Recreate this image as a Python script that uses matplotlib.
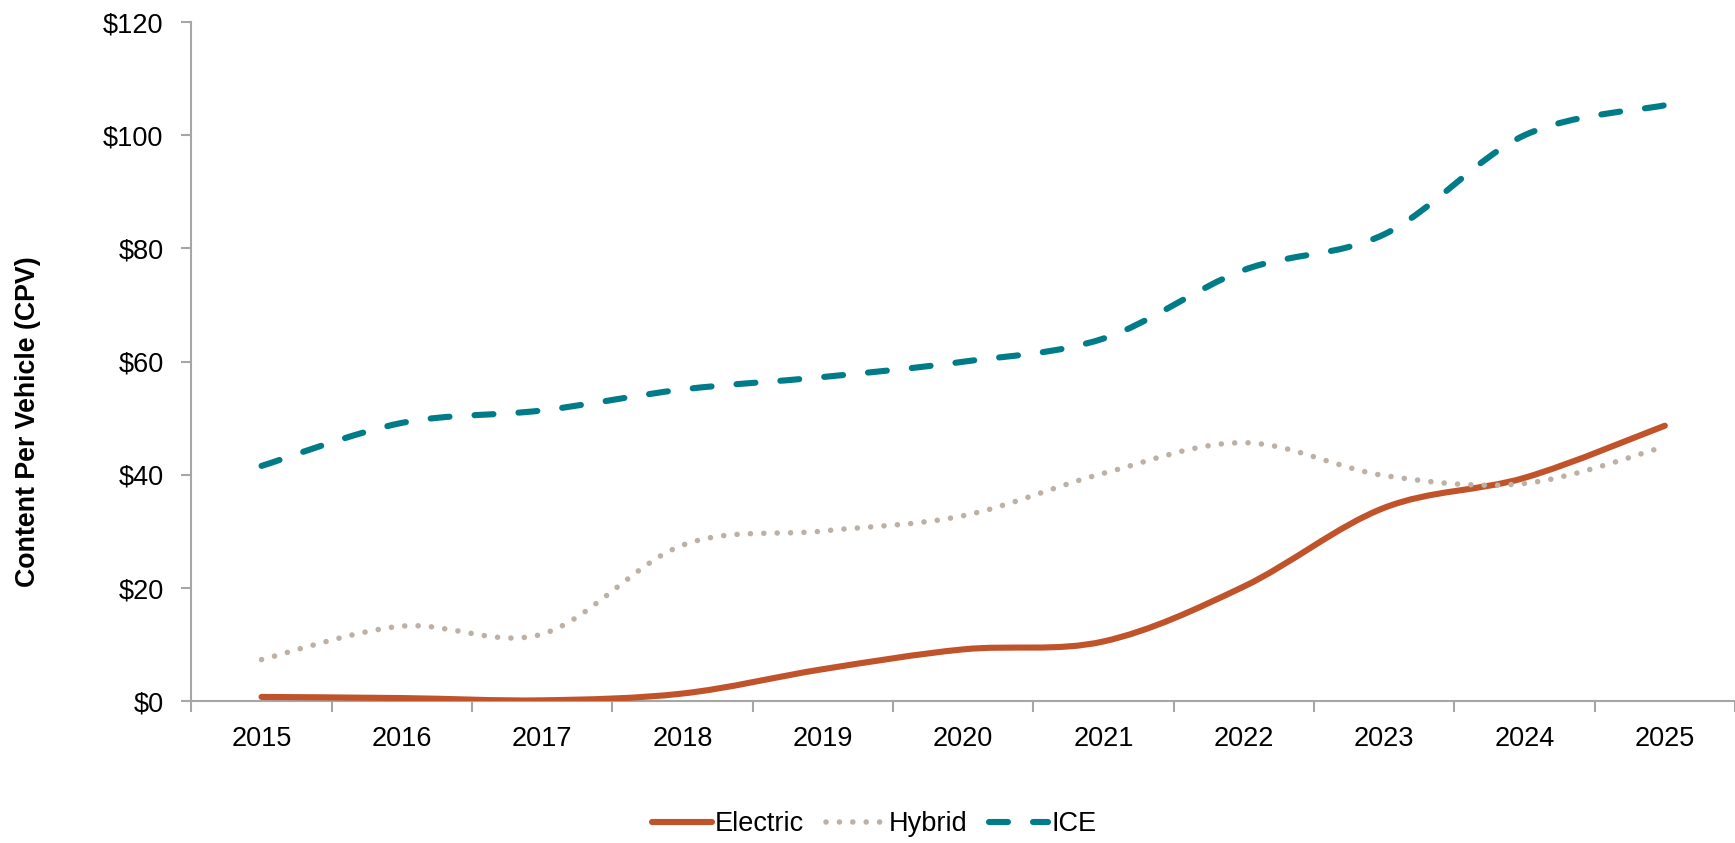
import matplotlib
matplotlib.use("Agg")
import matplotlib.pyplot as plt
from matplotlib.path import Path
from matplotlib.patches import PathPatch
from matplotlib.lines import Line2D

years = ["2015", "2016", "2017", "2018", "2019", "2020",
         "2021", "2022", "2023", "2024", "2025"]
electric = [0.8, 0.6, 0.2, 1.4, 5.7, 9.2, 10.6, 20.3, 34.2, 39.5, 48.7]
hybrid = [7.4, 13.3, 11.9, 27.6, 30.1, 32.8, 40.3, 45.7, 39.9, 38.5, 45.0]
ice = [41.6, 49.2, 51.4, 55.1, 57.3, 60.0, 64.1, 76.2, 82.5, 100.0, 105.3]
yticks = [0, 20, 40, 60, 80, 100, 120]

FONT = ["Liberation Sans Narrow", "Liberation Sans", "DejaVu Sans"]
plt.rcParams["font.family"] = FONT

C_ELEC = "#C0532A"
C_HYB = "#BDB1A6"
C_ICE = "#007C89"
C_AXIS = "#A6A6A6"
FS = 19.5


def smooth_path(xs, ys):
    # excel-style smoothed line: cubic bezier through the points
    n = len(xs)
    verts = [(xs[0], ys[0])]
    codes = [Path.MOVETO]
    for i in range(n - 1):
        i0 = max(i - 1, 0)
        i3 = min(i + 2, n - 1)
        c1 = (xs[i] + (xs[i + 1] - xs[i0]) / 6, ys[i] + (ys[i + 1] - ys[i0]) / 6)
        c2 = (xs[i + 1] - (xs[i3] - xs[i]) / 6, ys[i + 1] - (ys[i3] - ys[i]) / 6)
        verts += [c1, c2, (xs[i + 1], ys[i + 1])]
        codes += [Path.CURVE4] * 3
    return Path(verts, codes)


fig = plt.figure(figsize=(17.35, 8.43), dpi=100)
ax = fig.add_axes([0.1103, 0.1679, 0.8897, 0.806])

x = list(range(len(years)))
styles = [
    ("Electric", electric, C_ELEC, "-", 4.4),
    ("Hybrid", hybrid, C_HYB, (0, (0.01, 2.4)), 4.0),
    ("ICE", ice, C_ICE, (0, (3.1, 4.1)), 4.4),
]
handles = []
for name, vals, color, ls, lw in styles:
    patch = PathPatch(smooth_path(x, vals), fill=False, edgecolor=color,
                      linewidth=lw, linestyle=ls, capstyle="round",
                      joinstyle="round", zorder=3)
    ax.add_patch(patch)
    handles.append(Line2D([0], [0], color=color, lw=lw, linestyle=ls,
                          solid_capstyle="round", dash_capstyle="round"))

ax.set_xlim(-0.5, len(years) - 0.5)
ax.set_ylim(0, 120)

ax.set_yticks(yticks)
ax.set_yticklabels([f"${v}" for v in yticks])

ax.set_xticks([i - 0.5 for i in range(len(years) + 1)])
ax.set_xticklabels([])
ax.set_xticks(x, minor=True)
ax.set_xticklabels(years, minor=True)

for s in ["top", "right"]:
    ax.spines[s].set_visible(False)
for s in ["left", "bottom"]:
    ax.spines[s].set_color(C_AXIS)
    ax.spines[s].set_linewidth(1.5)

ax.tick_params(axis="y", which="major", length=7, width=1.5, color=C_AXIS,
               labelsize=FS, pad=13)
ax.tick_params(axis="x", which="major", length=8, width=1.5, color=C_AXIS)
ax.tick_params(axis="x", which="minor", length=0, labelsize=FS, pad=18)

fig.text(0.016, 0.5, "Content Per Vehicle (CPV)", rotation=90, fontsize=19.3,
         fontweight="bold", ha="center", va="center")

fig.legend(handles, [s[0] for s in styles], loc="center",
           bbox_to_anchor=(0.504, 0.0225), ncol=3, frameon=False, fontsize=FS,
           handlelength=2.2, handletextpad=0.12, columnspacing=0.8)

fig.savefig("out.png", dpi=100)
